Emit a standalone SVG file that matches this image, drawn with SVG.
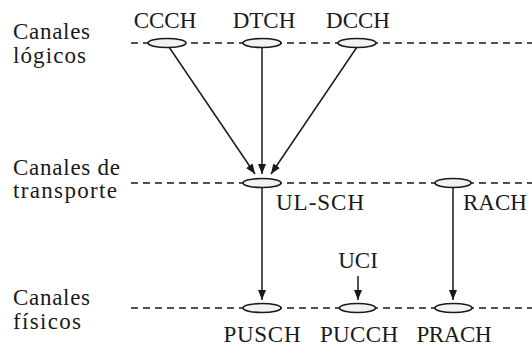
<svg xmlns="http://www.w3.org/2000/svg" width="532" height="352" viewBox="0 0 532 352">
<defs>
<marker id="ah" markerWidth="10" markerHeight="8" refX="10" refY="4" orient="auto" markerUnits="userSpaceOnUse">
<path d="M0,0 L10,4 L0,8 Z" fill="#1a1a1a"/>
</marker>
</defs>
<rect width="532" height="352" fill="#fff"/>
<g id="layers">
<text font-family="Liberation Serif" font-size="23" fill="#1a1a1a" x="13" y="39" textLength="77">Canales</text>
<text font-family="Liberation Serif" font-size="23" fill="#1a1a1a" x="13" y="63" textLength="73">l&#243;gicos</text>
<text font-family="Liberation Serif" font-size="23" fill="#1a1a1a" x="13" y="175" textLength="107">Canales de</text>
<text font-family="Liberation Serif" font-size="23" fill="#1a1a1a" x="13" y="198" textLength="104">transporte</text>
<text font-family="Liberation Serif" font-size="23" fill="#1a1a1a" x="13" y="305" textLength="77">Canales</text>
<text font-family="Liberation Serif" font-size="23" fill="#1a1a1a" x="13" y="329" textLength="68">f&#237;sicos</text>
<g stroke="#1a1a1a" stroke-width="1.6" stroke-dasharray="7 5" fill="none">
<line x1="131" y1="43" x2="532" y2="43"/>
<line x1="131" y1="183" x2="532" y2="183"/>
<line x1="131" y1="308" x2="532" y2="308"/>
</g>
</g>
<g id="connectors" stroke="#1a1a1a" stroke-width="1.5" fill="none" marker-end="url(#ah)">
<line x1="169" y1="47" x2="255" y2="174"/>
<line x1="262" y1="47" x2="262" y2="174"/>
<line x1="357" y1="47" x2="271" y2="174"/>
<line x1="262" y1="188" x2="262" y2="300"/>
<line x1="453" y1="188" x2="453" y2="300"/>
<line x1="358" y1="276" x2="358" y2="300"/>
</g>
<g id="CCCH"><ellipse fill="#f2f2f2" stroke="#1a1a1a" stroke-width="1.6" cx="167" cy="43" rx="19" ry="4.5"/><text font-family="Liberation Serif" font-size="23" fill="#1a1a1a" text-anchor="middle" x="165" y="28">CCCH</text></g>
<g id="DTCH"><ellipse fill="#f2f2f2" stroke="#1a1a1a" stroke-width="1.6" cx="262" cy="43" rx="19" ry="4.5"/><text font-family="Liberation Serif" font-size="23" fill="#1a1a1a" text-anchor="middle" x="264" y="28">DTCH</text></g>
<g id="DCCH"><ellipse fill="#f2f2f2" stroke="#1a1a1a" stroke-width="1.6" cx="357" cy="43" rx="19" ry="4.5"/><text font-family="Liberation Serif" font-size="23" fill="#1a1a1a" text-anchor="middle" x="358" y="28">DCCH</text></g>
<g id="UL-SCH"><ellipse fill="#f2f2f2" stroke="#1a1a1a" stroke-width="1.6" cx="262" cy="183" rx="19" ry="4.5"/><text font-family="Liberation Serif" font-size="23" fill="#1a1a1a" x="276" y="210" textLength="88">UL-SCH</text></g>
<g id="RACH"><ellipse fill="#f2f2f2" stroke="#1a1a1a" stroke-width="1.6" cx="453" cy="183" rx="18" ry="4.5"/><text font-family="Liberation Serif" font-size="23" fill="#1a1a1a" x="463" y="210">RACH</text></g>
<g id="UCI"><text font-family="Liberation Serif" font-size="23" fill="#1a1a1a" text-anchor="middle" x="358" y="268">UCI</text></g>
<g id="PUSCH"><ellipse fill="#f2f2f2" stroke="#1a1a1a" stroke-width="1.6" cx="262" cy="308" rx="19" ry="4.5"/><text font-family="Liberation Serif" font-size="23" fill="#1a1a1a" text-anchor="middle" x="262" y="342" textLength="77">PUSCH</text></g>
<g id="PUCCH"><ellipse fill="#f2f2f2" stroke="#1a1a1a" stroke-width="1.6" cx="357.5" cy="308" rx="18" ry="4.5"/><text font-family="Liberation Serif" font-size="23" fill="#1a1a1a" text-anchor="middle" x="359" y="342" textLength="78">PUCCH</text></g>
<g id="PRACH"><ellipse fill="#f2f2f2" stroke="#1a1a1a" stroke-width="1.6" cx="453.5" cy="308" rx="18.5" ry="4.5"/><text font-family="Liberation Serif" font-size="23" fill="#1a1a1a" text-anchor="middle" x="454" y="342" textLength="75">PRACH</text></g>
</svg>
